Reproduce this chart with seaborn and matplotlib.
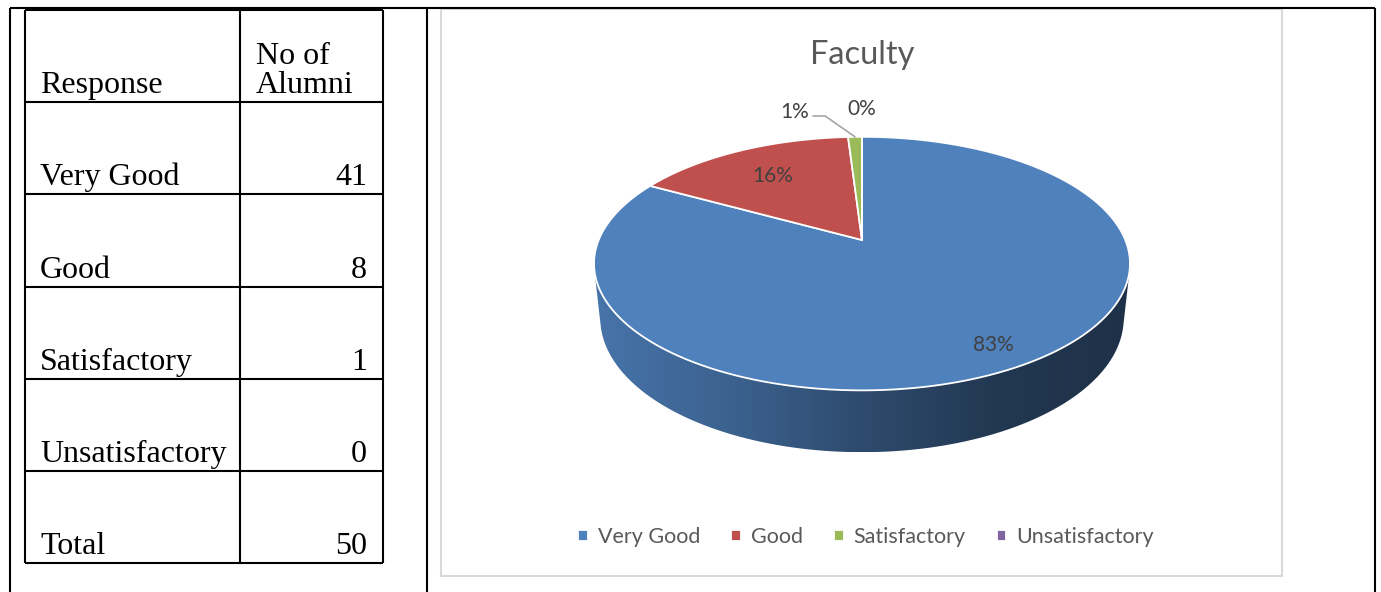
import numpy as np
import matplotlib
matplotlib.use("Agg")
import matplotlib.pyplot as plt
import matplotlib.transforms as mtransforms
from matplotlib.path import Path
from matplotlib.patches import Polygon, Rectangle
import seaborn as sns

# table data
header = ["Response", "No of\nAlumni"]
responses = ["Very Good", "Good", "Satisfactory", "Unsatisfactory"]
alumni = [41, 8, 1, 0]
total_label = "Total"
total = 50

# chart data (shares as printed on the chart)
chart_title = "Faculty"
shares = [83, 16, 1, 0]
slice_colors = ["#4f81bd", "#c0504d", "#9bbb59", "#8064a2"]

sns.set_style("white")
plt.rcParams['font.family'] = ['Lato', 'DejaVu Sans']

W, H = 1381, 592
fig = plt.figure(figsize=(W / 100, H / 100), dpi=100)
ax = fig.add_axes([0, 0, 1, 1])

# ---- perspective view of the pie (screen px, y down) ----
CX, CY = 862, 240          # pie centre on screen
ELEV = np.radians(27.7)    # camera elevation
DIST = 4.76                # camera distance (pie radii)
FOC = 263.3 * DIST         # focal length in px
DEPTH = 0.237              # pie thickness (pie radii)


def project(x, y, z):
    yc = y * np.sin(ELEV) + z * np.cos(ELEV)
    zc = DIST + y * np.cos(ELEV) - z * np.sin(ELEV)
    return CX + FOC * x / zc, CY - FOC * yc / zc


class Persp(mtransforms.Transform):
    input_dims = output_dims = 2
    has_inverse = False

    def transform_non_affine(self, values):
        v = np.asarray(values, dtype=float)
        sx, sy = project(v[:, 0], v[:, 1], 0.0)
        return np.column_stack([sx, sy])

    def transform_path_non_affine(self, path):
        pts = []
        for seg, code in path.iter_bezier(simplify=False):
            if seg.degree < 1:
                pts.append(seg.control_points)
            else:
                pts.append(seg(np.linspace(0, 1, 30)))
        pts = np.concatenate(pts)
        pts = np.vstack([pts, pts[:1]])
        return Path(self.transform_non_affine(pts), closed=True)


wedges, _ = ax.pie(shares, colors=slice_colors, startangle=90, counterclock=False,
                   wedgeprops=dict(edgecolor="white", linewidth=1.3, zorder=3))
persp = Persp()
for w in wedges:
    w.set_transform(persp + ax.transData)

# visible side of the cylinder
t_s = np.degrees(np.arcsin(1 / (DIST * np.cos(ELEV))))
vis_lo, vis_hi = 180 + t_s, 360 - t_s
left_px, right_px = CX - 268, CX + 268
for w, c in zip(wedges, slice_colors):
    for k in (-360, 0, 360):
        lo = max(w.theta1 + k, vis_lo)
        hi = min(w.theta2 + k, vis_hi)
        if hi <= lo:
            continue
        t = np.radians(np.linspace(lo, hi, 150))
        tx, ty = project(np.cos(t), np.sin(t), 0.0)
        bx, by = project(np.cos(t), np.sin(t), -DEPTH)
        verts = np.column_stack([np.r_[tx, bx[::-1]], np.r_[ty, by[::-1]]])
        poly = Polygon(verts, closed=True, facecolor="none", edgecolor="none")
        ax.add_patch(poly)
        gx = np.linspace(verts[:, 0].min(), verts[:, 0].max(), 300)
        u = (gx - left_px) / (right_px - left_px)
        shade = np.interp(u, [0, 0.25, 0.5, 0.75, 1], [0.9, 0.76, 0.58, 0.43, 0.38])
        rgb = np.array(matplotlib.colors.to_rgb(c))
        img = (rgb[None, :] * shade[:, None])[None, :, :]
        im = ax.imshow(img, extent=(gx[0], gx[-1], verts[:, 1].max(), verts[:, 1].min()),
                       aspect="auto", zorder=2, interpolation="bilinear")
        im.set_clip_path(poly)

# data labels
label_r = [0.85, 0.7, 1.35, 1.35]
label_shift = {2: (-58, 3)}
for i, (w, s) in enumerate(zip(wedges, shares)):
    mid = np.radians((w.theta1 + w.theta2) / 2)
    lx, ly = project(label_r[i] * np.cos(mid), label_r[i] * np.sin(mid), 0.0)
    if i in label_shift:
        dx, dy = label_shift[i]
        lx, ly = lx + dx, ly + dy
        rx, ry = project(np.cos(mid), np.sin(mid), 0.0)
        ax.plot([lx + 18, lx + 30, rx], [ly + 5, ly + 5, ry], color="#a6a6a6", lw=1.2, zorder=4)
    ax.text(lx, ly + 7.5, f"{s}%", ha="center", va="baseline", fontsize=15, color="#404040", zorder=5)

ax.text(CX, 64, chart_title, ha="center", va="baseline", fontsize=23.5, color="#595959")

leg = ax.legend(wedges, responses, loc="center", bbox_to_anchor=(866 / W, 1 - 537 / H), ncol=4,
                frameon=False, fontsize=15.5, handlelength=0.45, handleheight=0.45,
                handletextpad=0.45, columnspacing=1.45)
plt.setp(leg.get_texts(), color="#595959")

# chart area frame
ax.add_patch(Rectangle((441, 9), 1282 - 441, 576 - 9, fill=False, edgecolor="#d9d9d9", lw=1.5, zorder=1))

# ---- document table ----
ax.hlines(8, 10, 1375, color="black", lw=1.5)
ax.vlines([10, 427, 1375], 8, H, color="black", lw=1.5)

tx0, tx1, tx2 = 25, 240, 383
row_y = np.linspace(10, 563, len(responses) + 3)
ax.hlines(row_y, tx0, tx2, color="black", lw=1.5)
ax.vlines([tx0, tx1, tx2], row_y[0], row_y[-1], color="black", lw=1.5)

rows = [tuple(header)] + list(zip(responses, alumni)) + [(total_label, total)]
serif = dict(family="Liberation Serif", fontsize=23, color="black", va="baseline")
for i, (a, b) in enumerate(rows):
    base = row_y[i + 1] - 9
    for j, line in enumerate(reversed(str(a).split("\n"))):
        ax.text(tx0 + 15, base - j * 29, line, ha="left", **serif)
    for j, line in enumerate(reversed(str(b).split("\n"))):
        if i == 0:
            ax.text(tx1 + 16, base - j * 29, line, ha="left", **serif)
        else:
            ax.text(tx2 - 16, base - j * 29, line, ha="right", **serif)

ax.set_xlim(0, W)
ax.set_ylim(H, 0)
ax.set_aspect("auto")
ax.axis("off")
fig.savefig("out.png", dpi=100, facecolor="white")
